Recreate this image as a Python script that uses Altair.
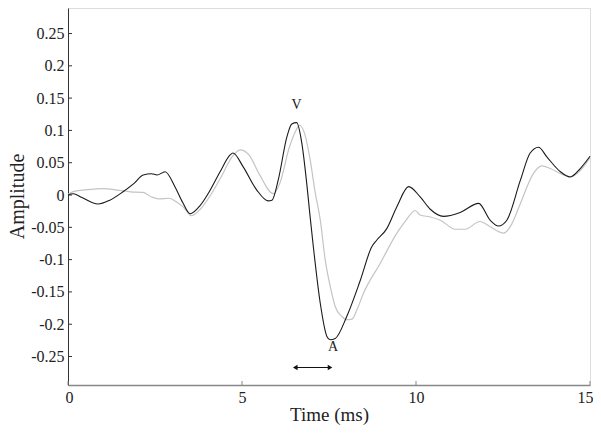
import altair as alt
import pandas as pd

# Black trace (time in ms, amplitude)
black_t = [0, 0.15, 0.4, 0.86, 1.2, 1.58, 1.9, 2.16, 2.4, 2.56, 2.79, 3.08, 3.3, 3.51, 3.8, 4.08, 4.37, 4.66, 4.74,
           5.03, 5.42, 5.75, 5.86, 6.04, 6.29, 6.43, 6.57, 6.72, 6.86, 6.96, 7.05, 7.25, 7.44, 7.53, 7.68, 8.01,
           8.4, 8.73, 8.87, 9.16, 9.45, 9.79, 10.12, 10.41, 10.79, 11.27, 11.8, 12.13, 12.37, 12.61, 13.0, 13.28,
           13.52, 13.76, 14.15, 14.43, 14.72, 15.0]
black_v = [0.0, 0.002, -0.004, -0.014, -0.008, 0.005, 0.018, 0.031, 0.033, 0.031, 0.036, 0.012, -0.012, -0.029,
           -0.016, 0.007, 0.036, 0.062, 0.065, 0.044, 0.008, -0.009, -0.008, 0.023, 0.090, 0.110, 0.112, 0.080,
           0.018, -0.035, -0.080, -0.168, -0.219, -0.224, -0.222, -0.188, -0.132, -0.080, -0.070, -0.052, -0.018,
           0.013, -0.003, -0.022, -0.033, -0.027, -0.013, -0.039, -0.048, -0.039, 0.023, 0.065, 0.074, 0.059,
           0.036, 0.028, 0.041, 0.060]

# Grey trace
grey_t = [0, 0.2, 0.5, 1.0, 1.2, 1.5, 1.8, 2.16, 2.4, 2.6, 2.9, 3.1, 3.3, 3.55, 3.8, 4.1, 4.4, 4.7, 4.95, 5.2,
          5.5, 5.9, 6.1, 6.35, 6.55, 6.65, 6.8, 6.96, 7.1, 7.25, 7.39, 7.55, 7.68, 7.87, 8.01, 8.16, 8.3, 8.49,
          8.97, 9.45, 9.7, 9.98, 10.12, 10.41, 10.7, 11.13, 11.41, 11.84, 12.13, 12.52, 12.75, 13.0, 13.38, 13.62,
          13.86, 14.2, 14.43, 14.72, 15.0]
grey_v = [0.001, 0.006, 0.008, 0.010, 0.009, 0.007, 0.005, 0.004, -0.003, -0.006, -0.005, -0.010, -0.018, -0.032,
          -0.022, 0.0, 0.028, 0.058, 0.070, 0.062, 0.032, 0.002, 0.020, 0.072, 0.100, 0.108, 0.095, 0.054, 0.005,
          -0.039, -0.100, -0.145, -0.173, -0.188, -0.193, -0.192, -0.178, -0.152, -0.106, -0.059, -0.040, -0.024,
          -0.031, -0.034, -0.039, -0.053, -0.053, -0.041, -0.049, -0.059, -0.045, -0.013, 0.034, 0.045, 0.041,
          0.032, 0.028, 0.038, 0.058]

y_ticks = [-0.25, -0.2, -0.15, -0.1, -0.05, 0, 0.05, 0.1, 0.15, 0.2, 0.25]
x_ticks = [0, 5, 10, 15]

label_text = ["V", "A"]
label_t = [6.57, 7.62]
label_v = [0.139, -0.235]

arrow_t = [6.53, 7.53]
arrow_v = [-0.267, -0.267]

W, H = 522, 377
FONT = "Liberation Serif"
xs = alt.Scale(domain=[0, 15], nice=False)
ys = alt.Scale(domain=[-0.2941, 0.2895], nice=False)

black_df = pd.DataFrame({"t": black_t, "v": black_v})
grey_df = pd.DataFrame({"t": grey_t, "v": grey_v})

xaxis = alt.Axis(values=x_ticks, format="d", title="Time (ms)")
yaxis = alt.Axis(values=y_ticks, labelExpr="'' + datum.value", title="Amplitude")

X = alt.X("t:Q", scale=xs, axis=xaxis)
Y = alt.Y("v:Q", scale=ys, axis=yaxis)

grey_line = alt.Chart(grey_df).mark_line(color="#c4c4c4", strokeWidth=1.2, interpolate="monotone").encode(x=X, y=Y)
black_line = alt.Chart(black_df).mark_line(color="#1a1a1a", strokeWidth=1.1, interpolate="monotone").encode(x=X, y=Y)

ytick_marks = alt.Chart(pd.DataFrame({"v": y_ticks})).mark_rule(color="#333", strokeWidth=1).encode(
    y=Y, x=alt.value(0), x2=alt.value(4))
xtick_marks = alt.Chart(pd.DataFrame({"t": x_ticks})).mark_rule(color="#888", strokeWidth=1).encode(
    x=X, y=alt.value(H), y2=alt.value(H - 4))

labels = alt.Chart(pd.DataFrame({"t": label_t, "v": label_v, "s": label_text})).mark_text(
    font=FONT, fontSize=14, color="#222").encode(x=X, y=Y, text="s:N")

arrow_df = pd.DataFrame({"t": arrow_t, "v": arrow_v, "shape": ["triangle-left", "triangle-right"]})
arrow_line = alt.Chart(arrow_df).mark_line(color="#111", strokeWidth=1).encode(x=X, y=Y)
arrow_heads = alt.Chart(arrow_df).mark_point(filled=True, color="#111", size=28, opacity=1).encode(
    x=X, y=Y, shape=alt.Shape("shape:N", scale=None, legend=None))

chart = alt.layer(grey_line, black_line, ytick_marks, xtick_marks, labels, arrow_line, arrow_heads).properties(
    width=W, height=H,
    autosize=alt.AutoSizeParams(type="none"),
    padding={"left": 60, "top": 0, "right": 3, "bottom": 40},
).configure_view(stroke=None).configure(background="white").configure_axis(
    grid=False, tickSize=0, labelOverlap=False, labelFont=FONT, labelColor="#222",
    titleFont=FONT, titleFontWeight="normal", titleColor="#222",
).configure_axisX(
    domainColor="#888", domainWidth=1.5, labelPadding=4, labelFontSize=16, titleFontSize=19, titlePadding=0,
    labelFlush=True, labelFlushOffset=3,
).configure_axisY(
    domainColor="#333", domainWidth=1, labelPadding=4, labelFontSize=16, titleFontSize=20, labelFlush=False,
    titleX=-51, titleY=188, titleAlign="center", titleBaseline="middle", titleAngle=270,
)

chart.save("out.html", embed_options={"renderer": "svg", "actions": False})
